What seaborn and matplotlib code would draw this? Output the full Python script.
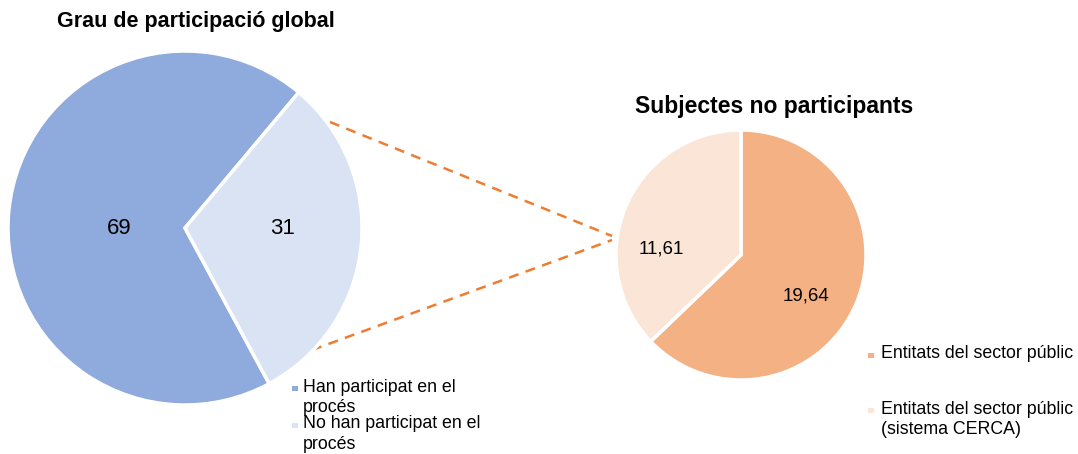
import matplotlib
matplotlib.use('Agg')
import matplotlib.pyplot as plt
from matplotlib.patches import Rectangle
import seaborn as sns

sns.set_style('white')
plt.rcParams['font.family'] = ['Liberation Sans', 'DejaVu Sans']

# data
global_labels = ['Han participat en el\nprocés', 'No han participat en el\nprocés']
global_values = [69, 31]
global_text = ['69', '31']
np_labels = ['Entitats del sector públic', 'Entitats del sector públic\n(sistema CERCA)']
np_values = [19.64, 11.61]
np_text = ['19,64', '11,61']

blues = ['#8FAADC', '#DAE3F3']
oranges = ['#F4B183', '#FBE5D6']

W, H = 1078, 454
fig = plt.figure(figsize=(W / 100, H / 100), dpi=100)

# overlay in pixel coordinates for titles, legends and connectors
ov = fig.add_axes([0, 0, 1, 1], zorder=-1)
ov.set_xlim(0, W)
ov.set_ylim(H, 0)
ov.axis('off')


def px_axes(cx, cy, r):
    return fig.add_axes([(cx - r) / W, (H - cy - r) / H, 2 * r / W, 2 * r / H])


def legend(x, y, colors, labels, step, gap):
    # marker sits next to the first line of each label
    for i, (c, lab) in enumerate(zip(colors, labels)):
        yy = y + i * step
        ov.add_patch(Rectangle((x, yy + 7), 5.5, 5.5, color=c, lw=0))
        ov.text(x + gap, yy, lab, fontsize=12.8, va='top', color='black',
                linespacing=1.25)


# left pie
ax1 = px_axes(185, 228, 177)
ax1.pie(global_values, colors=blues, startangle=50, counterclock=True,
        wedgeprops=dict(edgecolor='white', linewidth=2.5))
ax1.set_xlim(-1, 1)
ax1.set_ylim(-1, 1)
ax1.set_aspect('equal')
for txt, pos in zip(global_text, [(-0.37, 0.0), (0.55, 0.0)]):
    ax1.text(pos[0], pos[1], txt, ha='center', va='center', fontsize=16, color='black')

# right pie
ax2 = px_axes(741, 255, 125)
ax2.pie(np_values, colors=oranges, startangle=90, counterclock=False,
        wedgeprops=dict(edgecolor='white', linewidth=2.5))
ax2.set_xlim(-1, 1)
ax2.set_ylim(-1, 1)
ax2.set_aspect('equal')
for txt, pos in zip(np_text, [(0.52, -0.33), (-0.64, 0.05)]):
    ax2.text(pos[0], pos[1], txt, ha='center', va='center', fontsize=13.5, color='black')

# titles
ov.text(196, 22, 'Grau de participació global', fontsize=15.5, fontweight='bold',
        ha='center', va='center', color='black')
ov.text(774, 106, 'Subjectes no participants', fontsize=16.5, fontweight='bold',
        ha='center', va='center', color='black')

legend(292, 378.5, blues, global_labels, 37, 11)
legend(868, 345.5, oranges, np_labels, 55, 13)

# connector lines
ov.plot([330, 612], [122, 236], ls=(0, (4, 3)), color='#ED7D31', lw=1.8)
ov.plot([312, 612], [350, 240], ls=(0, (4, 3)), color='#ED7D31', lw=1.8)

fig.savefig('out.png', dpi=100)
